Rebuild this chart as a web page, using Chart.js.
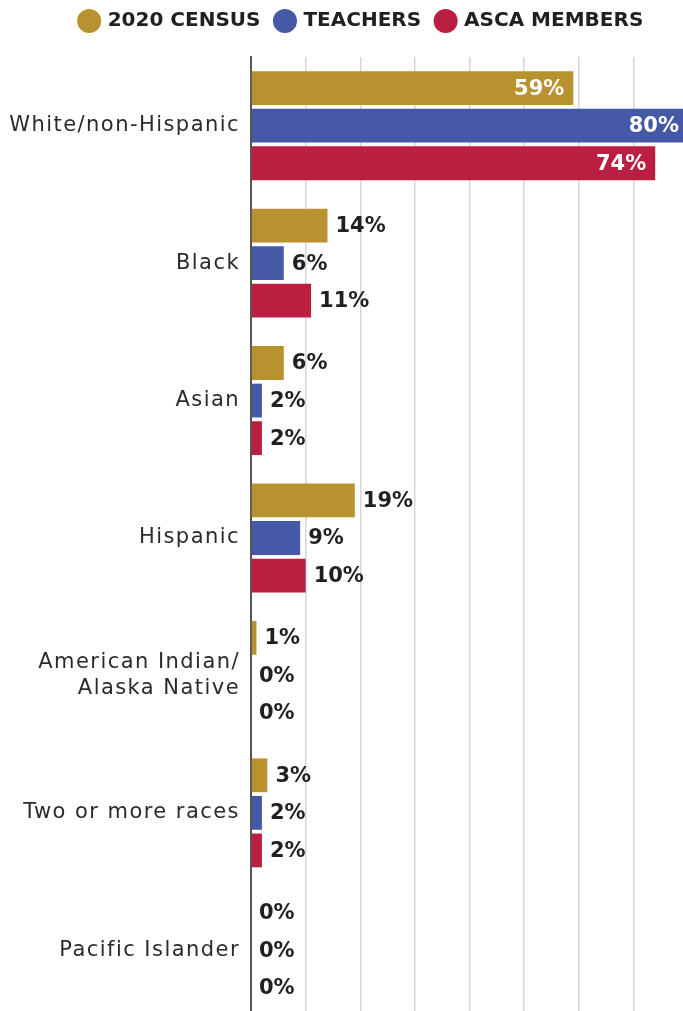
<!DOCTYPE html>
<html>
<head>
<meta charset="utf-8">
<script src="https://cdn.jsdelivr.net/npm/chart.js@4.4.0/dist/chart.umd.min.js"></script>
<style>
  html, body { margin: 0; padding: 0; background: #fff; overflow: hidden; }
  #wrap { position: relative; width: 688px; height: 1019px; }
</style>
</head>
<body>
<div id="wrap"><canvas id="bar-chart"></canvas></div>
<script>
// data
const kategori = ['White/non-Hispanic', 'Black', 'Asian', 'Hispanic', ['American Indian/', 'Alaska Native'], 'Two or more races', 'Pacific Islander'];
const census2020 = [59, 14, 6, 19, 1, 3, 0];
const teachers = [80, 6, 2, 9, 0, 2, 0];
const ascaMembers = [74, 11, 2, 10, 0, 2, 0];
const seriesNames = ['2020 CENSUS', 'TEACHERS', 'ASCA MEMBERS'];

const gold = '#b8922e';
const blue = '#4659a7';
const red = '#ba1e40';

// value labels at the end of every bar
const labelBar = {
    id: 'labelBar',
    afterDatasetsDraw(chart) {
        const ctx = chart.ctx;
        ctx.save();
        ctx.font = 'bold 21px "DejaVu Sans"';
        ctx.textBaseline = 'middle';
        chart.data.datasets.forEach((ds, i) => {
            const meta = chart.getDatasetMeta(i);
            meta.data.forEach((bar, j) => {
                const v = ds.data[j];
                const txt = v + '%';
                if (v >= 40) {
                    ctx.fillStyle = '#ffffff';
                    ctx.textAlign = 'right';
                    ctx.fillText(txt, bar.x - 9, bar.y + 1);
                } else {
                    ctx.fillStyle = '#231f20';
                    ctx.textAlign = 'left';
                    ctx.fillText(txt, bar.x + 8, bar.y + 1);
                }
            });
        });
        ctx.restore();
    }
};

// legend sits a bit right of centre and higher in the original
// category names are spaced wider than the font gives, so add letter spacing on the y labels only
const geserLegend = {
    id: 'geserLegend',
    afterLayout(chart) {
        chart.legend.left += 18;
        chart.legend.right += 18;
        chart.legend.top -= 5;
    },
    beforeDraw(chart) {
        const y = chart.scales.y;
        if (!y._spasi) {
            const asli = y.drawLabels.bind(y);
            y.drawLabels = function (area) {
                chart.ctx.save();
                chart.ctx.letterSpacing = '1.45px';
                asli(area);
                chart.ctx.restore();
            };
            y._spasi = true;
        }
    }
};

const ctx = document.getElementById('bar-chart').getContext('2d');
const myChart = new Chart(ctx, {
    type: 'bar',
    data: {
        labels: kategori,
        datasets: [{
            label: seriesNames[0],
            data: census2020,
            backgroundColor: gold
        }, {
            label: seriesNames[1],
            data: teachers,
            backgroundColor: blue
        }, {
            label: seriesNames[2],
            data: ascaMembers,
            backgroundColor: red
        }]
    },
    options: {
        indexAxis: 'y',
        responsive: true,
        maintainAspectRatio: false,
        animation: false,
        datasets: {
            bar: {
                barPercentage: 0.9,
                categoryPercentage: 0.82,
                borderWidth: 0
            }
        },
        layout: { padding: 0 },
        plugins: {
            tooltip: { enabled: false },
            legend: {
                position: 'top',
                labels: {
                    usePointStyle: true,
                    pointStyle: 'circle',
                    boxWidth: 17,
                    boxHeight: 17,
                    padding: 16,
                    color: '#231f20',
                    font: { family: '"DejaVu Sans"', size: 20, weight: 'bold' }
                }
            }
        },
        scales: {
            x: {
                position: 'top',
                min: 0,
                max: 80,
                afterFit(scale) { scale.height = 11; },
                ticks: { display: false, stepSize: 10 },
                border: { display: false },
                grid: { color: '#d6d6d6', lineWidth: 1.5, drawTicks: false }
            },
            y: {
                afterFit(scale) {
                    scale.width = 251;
                    scale.paddingTop = 0;
                    scale.paddingBottom = 0;
                },
                ticks: {
                    padding: 11,
                    color: '#2b2b2b',
                    font: { family: '"DejaVu Sans"', size: 21, lineHeight: 1.25 }
                },
                border: { display: true, color: '#555555', width: 2 },
                grid: { display: false, drawTicks: false }
            }
        }
    },
    plugins: [labelBar, geserLegend]
});
</script>
</body>
</html>
